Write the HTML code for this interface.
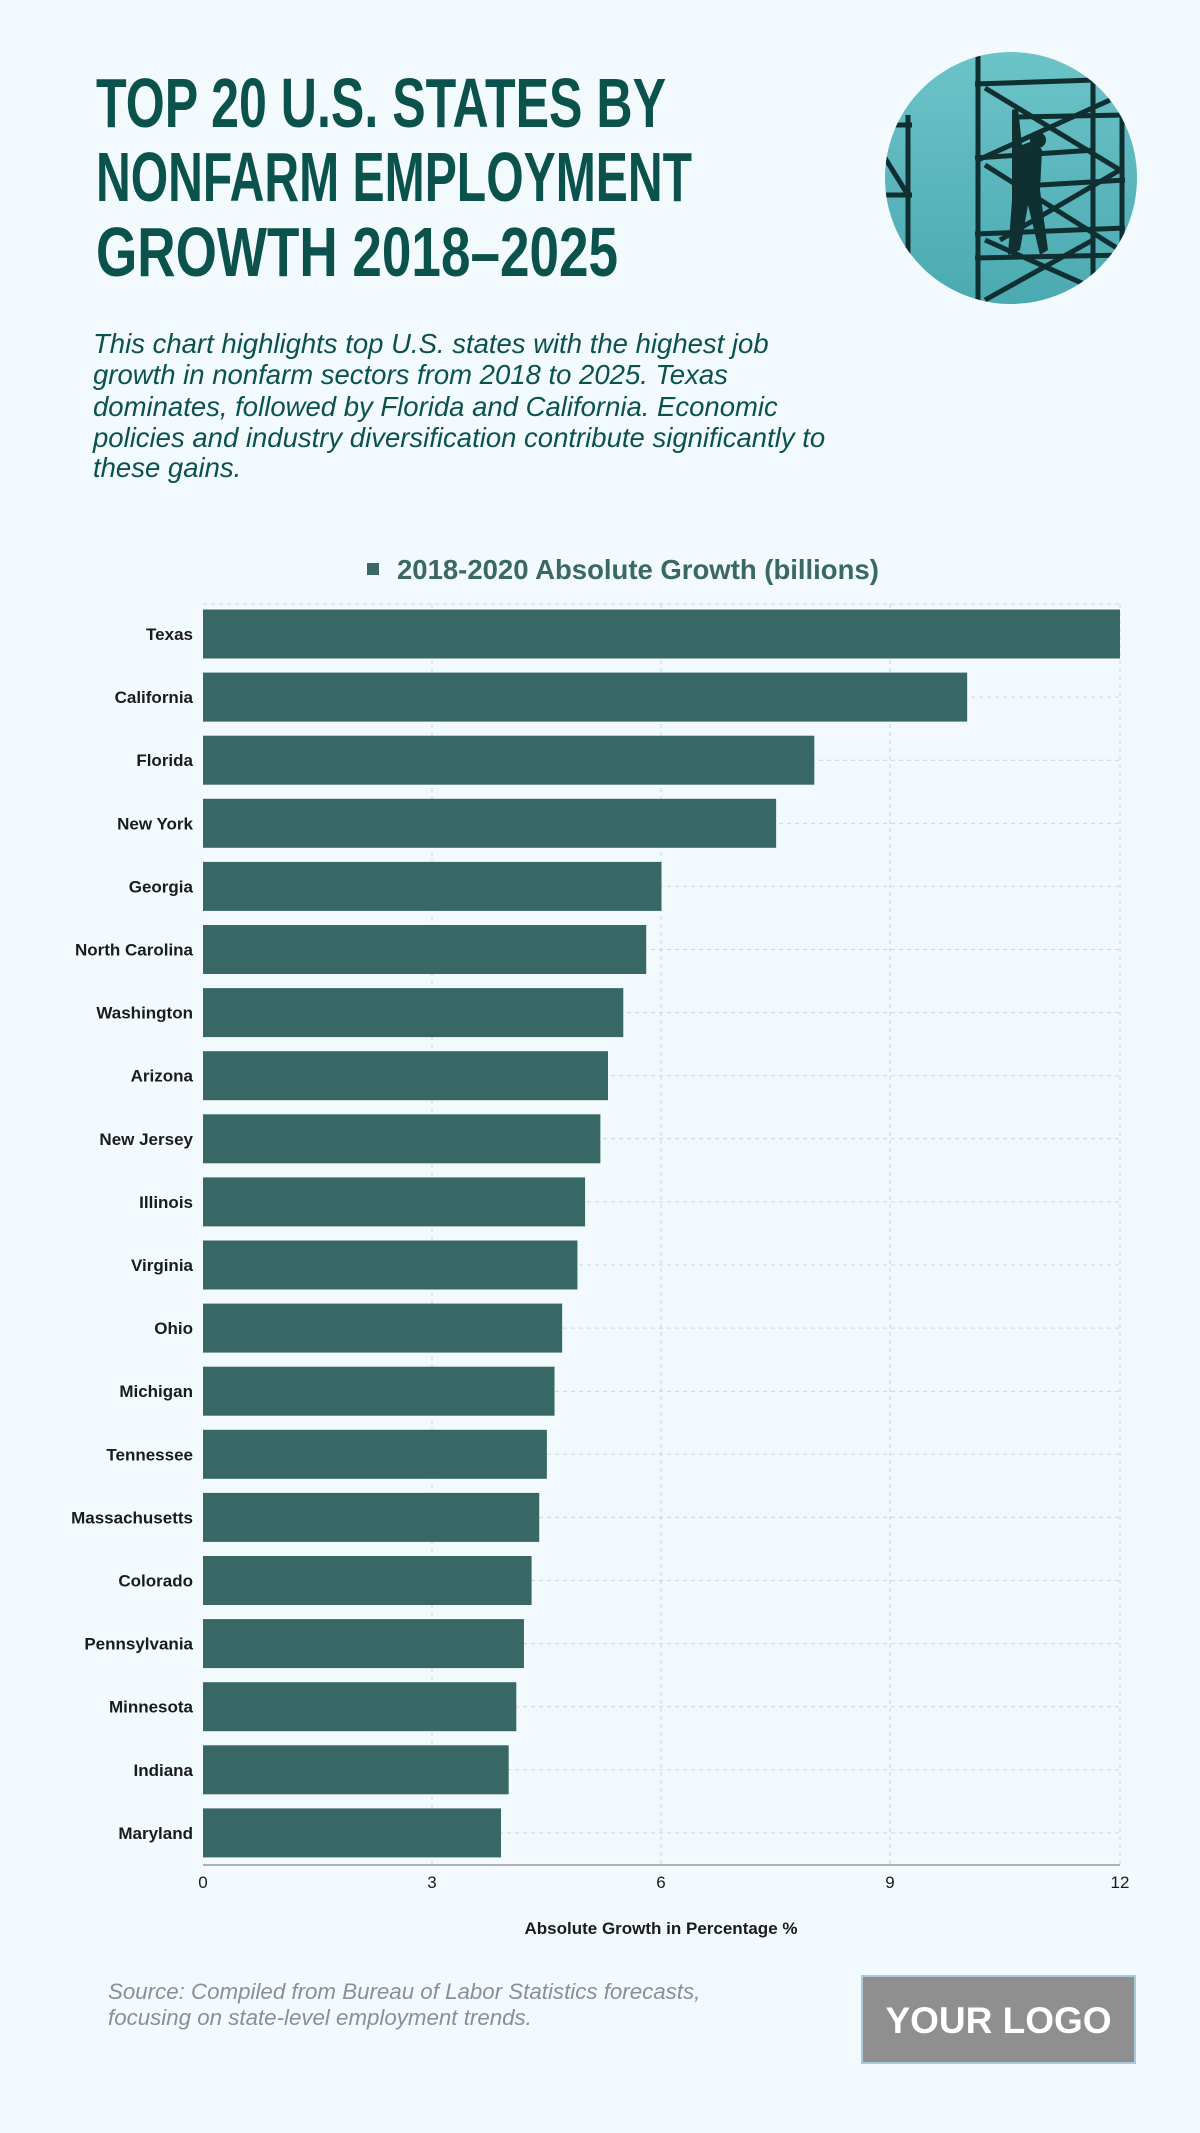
<!DOCTYPE html>
<html><head><meta charset="utf-8"><style>
html,body{margin:0;padding:0;background:#f2fafd;}
svg{display:block;}
</style></head><body>
<svg width="1200" height="2133" viewBox="0 0 1200 2133" xmlns="http://www.w3.org/2000/svg">
<rect width="1200" height="2133" fill="#f2fafd"/>
<g font-family="Liberation Sans, sans-serif" font-weight="bold" fill="#0b524d" font-size="70">
<text x="96" y="127" textLength="570" lengthAdjust="spacingAndGlyphs">TOP 20 U.S. STATES BY</text>
<text x="96" y="201" textLength="596" lengthAdjust="spacingAndGlyphs">NONFARM EMPLOYMENT</text>
<text x="96" y="276" textLength="522" lengthAdjust="spacingAndGlyphs">GROWTH 2018–2025</text>
</g>
<g font-family="Liberation Sans, sans-serif" font-style="italic" fill="#0b524d" font-size="27.5">
<text x="93" y="353">This chart highlights top U.S. states with the highest job</text>
<text x="93" y="384">growth in nonfarm sectors from 2018 to 2025. Texas</text>
<text x="93" y="416">dominates, followed by Florida and California. Economic</text>
<text x="93" y="447">policies and industry diversification contribute significantly to</text>
<text x="93" y="477">these gains.</text>
</g>
<defs><clipPath id="c"><circle cx="1011" cy="178" r="126"/></clipPath>
<linearGradient id="g" x1="0" y1="0" x2="0" y2="1"><stop offset="0" stop-color="#6cc4c8"/><stop offset="1" stop-color="#4aa9b0"/></linearGradient></defs>
<g clip-path="url(#c)">
<rect x="880" y="50" width="260" height="260" fill="url(#g)"/>
<g stroke="#0f2f30" stroke-width="5" fill="none">
<line x1="978" y1="50" x2="978" y2="310"/><line x1="1093" y1="80" x2="1093" y2="310"/><line x1="1122" y1="115" x2="1122" y2="310"/><line x1="908" y1="115" x2="908" y2="260"/>
<line x1="975" y1="84" x2="1095" y2="80"/><line x1="1015" y1="117" x2="1125" y2="115"/><line x1="975" y1="158" x2="1095" y2="150"/><line x1="1040" y1="185" x2="1125" y2="180"/><line x1="975" y1="234" x2="1125" y2="228"/><line x1="975" y1="258" x2="1125" y2="255"/>
<line x1="880" y1="125" x2="912" y2="125"/><line x1="880" y1="195" x2="912" y2="195"/>
<line x1="985" y1="88" x2="1120" y2="170"/><line x1="978" y1="160" x2="1110" y2="100"/><line x1="985" y1="165" x2="1120" y2="250"/><line x1="1000" y1="240" x2="1120" y2="170"/><line x1="985" y1="240" x2="1120" y2="300"/><line x1="985" y1="300" x2="1093" y2="240"/><line x1="880" y1="150" x2="908" y2="195"/>
</g>
<path d="M1012 110 L1018 108 L1022 145 L1035 140 L1042 150 L1040 190 L1048 250 L1040 255 L1028 205 L1020 250 L1008 255 L1012 200 L1012 150 Z" fill="#0f2f30"/>
<circle cx="1038" cy="140" r="8" fill="#0f2f30"/>
</g>
<g font-family="Liberation Sans, sans-serif" font-weight="bold">
<rect x="367" y="563" width="12" height="12" fill="#3a6864"/>
<text x="397" y="579" font-size="27.5" fill="#3a6864">2018-2020 Absolute Growth (billions)</text>
</g>
<g stroke="#c9d6d9" stroke-width="1" stroke-dasharray="4,4">
<line x1="203" y1="604" x2="1120" y2="604"/>
<line x1="432" y1="604" x2="432" y2="1865"/><line x1="661" y1="604" x2="661" y2="1865"/><line x1="890" y1="604" x2="890" y2="1865"/><line x1="1120" y1="604" x2="1120" y2="1865"/>
<path d="M203 634H1120M203 697.1H1120M203 760.2H1120M203 823.3H1120M203 886.4H1120M203 949.5H1120M203 1012.6H1120M203 1075.7H1120M203 1138.8H1120M203 1201.9H1120M203 1265H1120M203 1328.1H1120M203 1391.2H1120M203 1454.3H1120M203 1517.4H1120M203 1580.5H1120M203 1643.6H1120M203 1706.7H1120M203 1769.8H1120M203 1832.9H1120"/>
</g>
<g fill="#386865">
<rect x="203" y="609.5" width="917" height="49"/>
<rect x="203" y="672.6" width="764.17" height="49"/>
<rect x="203" y="735.7" width="611.33" height="49"/>
<rect x="203" y="798.8" width="573.13" height="49"/>
<rect x="203" y="861.9" width="458.5" height="49"/>
<rect x="203" y="925" width="443.22" height="49"/>
<rect x="203" y="988.1" width="420.29" height="49"/>
<rect x="203" y="1051.2" width="405" height="49"/>
<rect x="203" y="1114.3" width="397.37" height="49"/>
<rect x="203" y="1177.4" width="382.08" height="49"/>
<rect x="203" y="1240.5" width="374.44" height="49"/>
<rect x="203" y="1303.6" width="359.16" height="49"/>
<rect x="203" y="1366.7" width="351.52" height="49"/>
<rect x="203" y="1429.8" width="343.88" height="49"/>
<rect x="203" y="1492.9" width="336.23" height="49"/>
<rect x="203" y="1556" width="328.59" height="49"/>
<rect x="203" y="1619.1" width="320.95" height="49"/>
<rect x="203" y="1682.2" width="313.31" height="49"/>
<rect x="203" y="1745.3" width="305.67" height="49"/>
<rect x="203" y="1808.4" width="298.02" height="49"/>
</g>
<g font-family="Liberation Sans, sans-serif" font-weight="bold" font-size="17" fill="#1b1b1b" text-anchor="end">
<text x="193" y="640">Texas</text>
<text x="193" y="703.1">California</text>
<text x="193" y="766.2">Florida</text>
<text x="193" y="829.3">New York</text>
<text x="193" y="892.4">Georgia</text>
<text x="193" y="955.5">North Carolina</text>
<text x="193" y="1018.6">Washington</text>
<text x="193" y="1081.7">Arizona</text>
<text x="193" y="1144.8">New Jersey</text>
<text x="193" y="1207.9">Illinois</text>
<text x="193" y="1271">Virginia</text>
<text x="193" y="1334.1">Ohio</text>
<text x="193" y="1397.2">Michigan</text>
<text x="193" y="1460.3">Tennessee</text>
<text x="193" y="1523.4">Massachusetts</text>
<text x="193" y="1586.5">Colorado</text>
<text x="193" y="1649.6">Pennsylvania</text>
<text x="193" y="1712.7">Minnesota</text>
<text x="193" y="1775.8">Indiana</text>
<text x="193" y="1838.9">Maryland</text>
</g>
<line x1="203" y1="1865" x2="1120" y2="1865" stroke="#999" stroke-width="1.5"/>
<g font-family="Liberation Sans, sans-serif" font-size="17" fill="#1b1b1b" text-anchor="middle">
<text x="203" y="1888">0</text><text x="432" y="1888">3</text><text x="661" y="1888">6</text><text x="890" y="1888">9</text><text x="1120" y="1888">12</text>
<text x="661" y="1934" font-weight="bold">Absolute Growth in Percentage %</text>
</g>
<g font-family="Liberation Sans, sans-serif" font-style="italic" font-size="22.3" fill="#8a8f93">
<text x="108" y="1999">Source: Compiled from Bureau of Labor Statistics forecasts,</text>
<text x="108" y="2025">focusing on state-level employment trends.</text>
</g>
<rect x="862" y="1976" width="273" height="87" fill="#8f8f8f" stroke="#a9cbd8" stroke-width="2"/>
<text x="998.5" y="2033" font-family="Liberation Sans, sans-serif" font-weight="bold" font-size="37" fill="#fff" text-anchor="middle">YOUR LOGO</text>
</svg>
</body></html>
